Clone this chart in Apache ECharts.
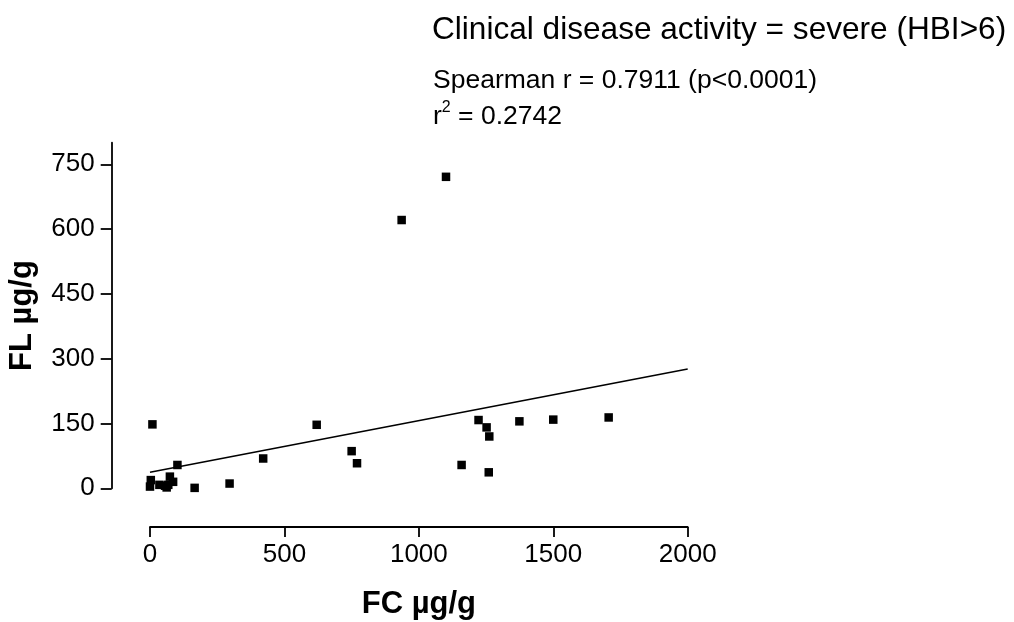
<!DOCTYPE html>
<html>
<head>
<meta charset="utf-8">
<script src="https://cdn.jsdelivr.net/npm/echarts@6/dist/echarts.min.js"></script>
<style>
html,body{margin:0;padding:0;background:#fff;}
#chart{width:1014px;height:622px;}
</style>
</head>
<body>
<div id="chart"></div>
<script>
// FC (x) and FL (y) values per patient
const fcValues = [0, 3, 35, 56, 62, 68, 74, 86, 102, 9, 166, 296, 421, 620, 750, 770, 936, 1101, 1159, 1222, 1252, 1262, 1260, 1374, 1500, 1706];
const flValues = [4, 19, 8, 6, 2, 8, 27, 15, 54, 148, 1, 11, 69, 147, 86, 58, 621, 721, 54, 158, 141, 120, 37, 155, 159, 164];
// linear regression line end points
const fitX = [0, 2000];
const fitY = [37, 276];
// tick labels
const xTicks = [0, 500, 1000, 1500, 2000];
const yTicks = [0, 150, 300, 450, 600, 750];

const titleText = 'Clinical disease activity = severe (HBI>6)';
const statText = 'Spearman r = 0.7911 (p<0.0001)';
const r2Value = '0.2742';

const points = fcValues.map((x, i) => [x, flValues[i]]);
const fitLine = fitX.map((x, i) => [x, fitY[i]]);

const FONT = '"Liberation Sans", Arial, sans-serif';
const chart = echarts.init(document.getElementById('chart'), null, {renderer: 'canvas'});
chart.setOption({
  animation: false,
  backgroundColor: '#fff',
  textStyle: {fontFamily: FONT, color: '#000'},
  title: [
    {text: titleText, left: 432, top: 14, padding: 0,
     textStyle: {fontFamily: FONT, fontSize: 31.6, fontWeight: 'normal', color: '#000'}},
    {text: statText, left: 433, top: 67, padding: 0,
     textStyle: {fontFamily: FONT, fontSize: 26.5, fontWeight: 'normal', color: '#000'}},
    {text: '{a|r}{s|2}{a| = ' + r2Value + '}', left: 433, top: 100, padding: 0,
     textStyle: {fontFamily: FONT, fontSize: 26.5, fontWeight: 'normal', color: '#000',
       rich: {
         a: {fontFamily: FONT, fontSize: 26.5, color: '#000', lineHeight: 30, verticalAlign: 'bottom'},
         s: {fontFamily: FONT, fontSize: 16, color: '#000', lineHeight: 30, verticalAlign: 'top'}
       }}}
  ],
  grid: {left: 150, right: 326.3, top: 142.7, bottom: 133.7, containLabel: false,
         outerBoundsMode: 'none'},
  xAxis: {
    type: 'value', min: 0, max: 2000, interval: 500, offset: 38.7,
    axisLine: {show: true, onZero: false, lineStyle: {color: '#000', width: 1.8}},
    axisTick: {show: true, length: 10, inside: false, lineStyle: {color: '#000', width: 1.8}},
    splitLine: {show: false},
    axisLabel: {show: true, fontFamily: FONT, fontSize: 26, color: '#000', margin: 15,
      customValues: xTicks, formatter: v => String(v)},
    name: 'FC µg/g', nameLocation: 'middle', nameGap: 62,
    nameTextStyle: {fontFamily: FONT, fontSize: 31, fontWeight: 'bold', color: '#000'}
  },
  yAxis: {
    type: 'value', min: 0, max: 800, interval: 150, offset: 38.3,
    axisLine: {show: true, onZero: false, lineStyle: {color: '#000', width: 1.8}},
    axisTick: {show: true, length: 11, inside: false, customValues: yTicks,
      lineStyle: {color: '#000', width: 1.8}},
    splitLine: {show: false},
    axisLabel: {show: true, fontFamily: FONT, fontSize: 26, color: '#000', margin: 17,
      customValues: yTicks, formatter: v => String(v)},
    name: 'FL µg/g', nameLocation: 'middle', nameGap: 74, nameRotate: 90,
    nameTextStyle: {fontFamily: FONT, fontSize: 31, fontWeight: 'bold', color: '#000'}
  },
  series: [
    {type: 'scatter', data: points, symbol: 'rect', symbolSize: 8.5,
     itemStyle: {color: '#000', opacity: 1}, z: 3},
    {type: 'line', data: fitLine, symbol: 'none', showSymbol: false,
     lineStyle: {color: '#000', width: 1.6}, z: 2}
  ]
});
</script>
</body>
</html>
